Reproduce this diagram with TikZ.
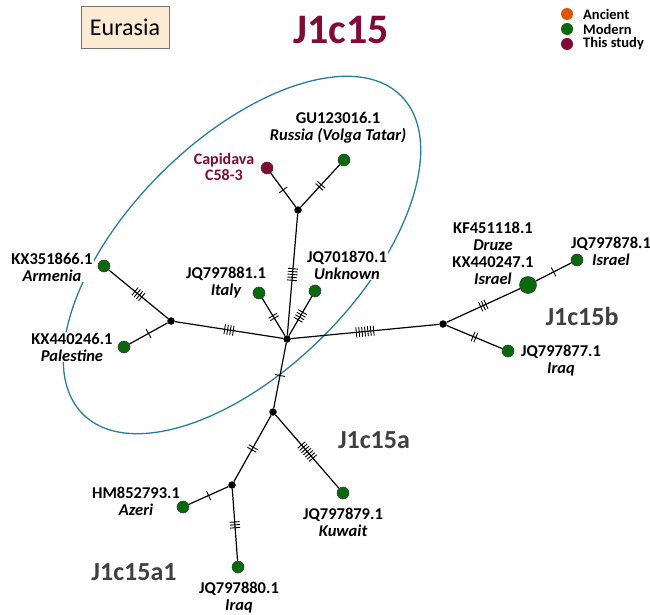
\documentclass[tikz,border=0pt]{standalone}
\usepackage{fontspec}
\setmainfont{Carlito}
\usetikzlibrary{decorations.markings}
\definecolor{maroon}{RGB}{130,10,55}
\definecolor{hapgreen}{RGB}{10,105,10}
\definecolor{ancient}{RGB}{225,85,10}
\definecolor{ellc}{RGB}{40,125,160}
\definecolor{grp}{RGB}{64,64,64}
\definecolor{beige}{RGB}{253,234,210}
\begin{document}
\begin{tikzpicture}[x=1pt,y=-1pt,
  hap/.style={circle,draw=black!80,line width=0.5pt,fill=hapgreen,minimum size=12pt,inner sep=0pt},
  jn/.style={circle,fill=black,minimum size=7.5pt,inner sep=0pt},
  lbl/.style={align=center,fill=white,inner sep=1pt,font=\fontsize{16.5}{17}\selectfont\bfseries},
  grplbl/.style={font=\fontsize{26}{28}\selectfont\bfseries,text=grp},
  leg/.style={circle,minimum size=12pt,inner sep=0pt},
  legtxt/.style={anchor=west,inner sep=0pt,font=\fontsize{14.5}{15}\selectfont\bfseries},
  edge/.style={line width=1.2pt},
  tks/.style={postaction={decorate,decoration={markings,
     mark=at position 0.5 with {\foreach \k in {1,...,#1}{\draw[line width=0.9pt] ({(\k-(#1+1)/2)*2.9pt},-5pt) -- ({(\k-(#1+1)/2)*2.9pt},5pt);}}}}}]
\useasboundingbox (0,0) rectangle (650,615);

% clade ellipse
\draw[ellc,line width=1.3pt,rotate around={45:(242,255)}] (242,255) ellipse [x radius=225pt,y radius=115pt];

% header
\node[draw=black!55,fill=beige,line width=0.8pt,minimum width=88pt,minimum height=42pt,inner sep=0pt,font=\fontsize{24}{26}\selectfont] (eur) at (125,27) {Eurasia};
\node[font=\fontsize{42}{44}\selectfont\bfseries,text=maroon] (title) at (341,30) {J1c15};

% legend
\node[leg,fill=ancient] (la) at (567,14) {};
\node[leg,fill=hapgreen] (lm) at (567,29) {};
\node[leg,fill=maroon] (lt) at (567,44) {};
\node[legtxt] (lat) at (583,14) {Ancient};
\node[legtxt] (lmt) at (583,29) {Modern};
\node[legtxt] (ltt) at (583,44) {This study};

% labels
\node[lbl] (lgu) at (338,128) {GU123016.1\\\itshape Russia (Volga Tatar)};
\node[lbl,text=maroon,font=\fontsize{16}{16.5}\selectfont\bfseries] (lcap) at (224,167) {Capidava\\C58-3};
\node[lbl] (lita) at (226,283) {JQ797881.1\\\itshape Italy};
\node[lbl] (lunk) at (347,265) {JQ701870.1\\\itshape Unknown};
\node[lbl] (larm) at (52,267) {KX351866.1\\\itshape Armenia};
\node[lbl] (lpal) at (72,347) {KX440246.1\\\itshape Palestine};
\node[lbl] (lbig) at (493,253) {KF451118.1\\\itshape Druze\\KX440247.1\\\itshape Israel};
\node[lbl] (lisr) at (611,251) {JQ797878.1\\\itshape Israel};
\node[lbl] (lirq1) at (561,361) {JQ797877.1\\\itshape Iraq};
\node[lbl] (laze) at (136,501) {HM852793.1\\\itshape Azeri};
\node[lbl] (lkuw) at (343,522) {JQ797879.1\\\itshape Kuwait};
\node[lbl] (lirq2) at (239,598) {JQ797880.1\\\itshape Iraq};

\node[grplbl] (gb) at (582,316) {J1c15b};
\node[grplbl] (ga) at (374,440) {J1c15a};
\node[grplbl] (ga1) at (134,572) {J1c15a1};

% haplotypes and median vectors
\node[hap,fill=maroon] (cap) at (267,168) {};
\node[hap] (gu) at (344,160) {};
\node[jn] (a) at (298,210) {};
\node[hap] (ita) at (259,293) {};
\node[hap] (unk) at (315,291) {};
\node[jn] (c0) at (287,339) {};
\node[hap] (arm) at (104,266) {};
\node[jn] (b) at (171,321) {};
\node[hap] (pal) at (124,347) {};
\node[jn] (c) at (443,324) {};
\node[hap,minimum size=17pt] (big) at (528,285) {};
\node[hap] (isr) at (577,260) {};
\node[hap] (irq1) at (508,351) {};
\node[jn] (d) at (273,412) {};
\node[jn] (e) at (232,485) {};
\node[hap] (aze) at (183,507) {};
\node[hap] (irq2) at (238,567) {};
\node[hap] (kuw) at (343,493) {};

% connectors with mutation ticks
\draw[edge,tks=1] (cap) -- (a);
\draw[edge,tks=2] (gu) -- (a);
\draw[edge,tks=5] (a) -- (c0);
\draw[edge,tks=2] (ita) -- (c0);
\draw[edge,tks=4] (unk) -- (c0);
\draw[edge,tks=4] (b) -- (c0);
\draw[edge,tks=4] (arm) -- (b);
\draw[edge,tks=1] (pal) -- (b);
\draw[edge,tks=7] (c0) -- (c);
\draw[edge,tks=3] (c) -- (big);
\draw[edge,tks=1] (big) -- (isr);
\draw[edge,tks=2] (c) -- (irq1);
\draw[edge,tks=1] (c0) -- (d);
\draw[edge,tks=2] (d) -- (e);
\draw[edge,tks=7] (d) -- (kuw);
\draw[edge,tks=1] (e) -- (aze);
\draw[edge,tks=3] (e) -- (irq2);
\end{tikzpicture}
\end{document}
